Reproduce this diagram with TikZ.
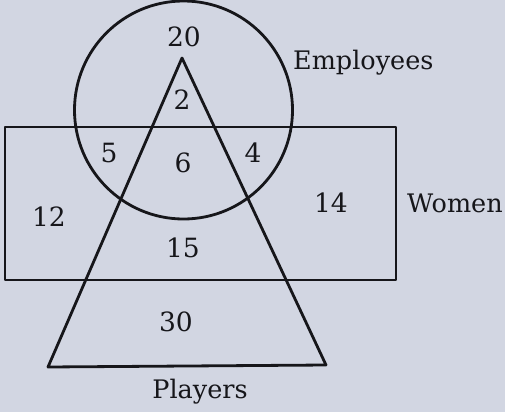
\documentclass[tikz,border=0pt]{standalone}
\usepackage{tikz}
\usepackage{fontspec}
\setmainfont{DejaVu Serif}
\usetikzlibrary{positioning}
\definecolor{paper}{RGB}{210,214,226}
\definecolor{ink}{RGB}{22,22,26}

\begin{document}
\begin{tikzpicture}[
x=1pt, y=-1pt,
setline/.style={draw=ink, line width=2.8pt, line join=round},
num/.style={text=ink, inner sep=0pt, font=\fontsize{26.5}{30}\selectfont},
setname/.style={text=ink, inner sep=0pt, font=\fontsize{25.5}{30}\selectfont}
]
\fill[paper] (0,0) rectangle (505,412);
\useasboundingbox (0,0) rectangle (505,412);
% the three sets
\draw[setline] (183.5,110) circle[radius=109pt];
\draw[setline] (5,127) rectangle (396,280);
\draw[setline] (182,58) -- (326,365) -- (48,367) -- cycle;
% numbers in the regions
\node[num] (nEmp) at (184,37) {20};
\node[num] (nAll) at (182,100) {2};
\node[num] (nEW) at (109,153) {5};
\node[num] (nEWP) at (183,163) {6};
\node[num] (nEP) at (253,153) {4};
\node[num] (nWom) at (49,217) {12};
\node[num] (nWom2) at (331,203) {14};
\node[num] (nWP) at (183,248) {15};
\node[num] (nPly) at (176,322) {30};
% set names
\node[setname, anchor=west] (lEmp) at (293,63) {Employees};
\node[setname, anchor=west] (lWom) at (407,203) {Women};
\node[setname] (lPly) at (200,392) {Players};
\end{tikzpicture}
\end{document}
